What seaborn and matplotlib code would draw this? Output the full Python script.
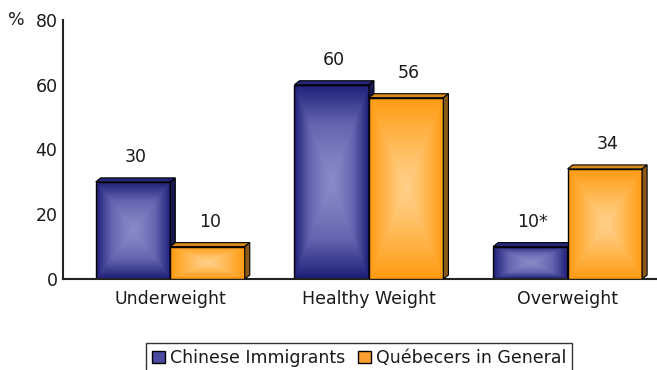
import numpy as np
import pandas as pd
import matplotlib
matplotlib.use("Agg")
import matplotlib.pyplot as plt
import seaborn as sns
from matplotlib.colors import LinearSegmentedColormap
from matplotlib.patches import Polygon, Patch, Rectangle

# ---- data ----
categories = ["Underweight", "Healthy Weight", "Overweight"]
groups = ["Chinese Immigrants", "Québecers in General"]
chinese = [30, 60, 10]
quebecers = [10, 56, 34]
labels_chinese = ["30", "60", "10*"]
labels_quebec = ["10", "56", "34"]
y_ticks = [0, 20, 40, 60, 80]

sns.set_theme(style="white")
plt.rcParams["font.family"] = ["DejaVu Sans"]
FS = 12.5

df = pd.DataFrame({
    "category": categories * 2,
    "group": [groups[0]] * len(categories) + [groups[1]] * len(categories),
    "value": chinese + quebecers,
})

fig = plt.figure(figsize=(6.57, 3.7), dpi=100)
ax = fig.add_axes([63 / 657, 1 - 279 / 370, (657 - 63) / 657, (279 - 20) / 370])

palette = {groups[0]: "#2a2a88", groups[1]: "#ff9e1a"}
sns.barplot(data=df, x="category", y="value", hue="group", order=categories,
            hue_order=groups, palette=palette, width=0.75, saturation=1,
            edgecolor="none", linewidth=0, ax=ax, legend=False)

ax.set_xlim(-0.54, 2.45)
ax.set_ylim(0, 80)
ax.set_yticks(y_ticks)
ax.set_xlabel("")
ax.set_ylabel("")
ax.tick_params(axis="both", length=0, labelsize=FS, colors="#1a1a1a")
ax.tick_params(axis="y", pad=4)
ax.tick_params(axis="x", pad=8)
for s in ["top", "right"]:
    ax.spines[s].set_visible(False)
for s in ["left", "bottom"]:
    ax.spines[s].set_color("#222222")
    ax.spines[s].set_linewidth(1.5)
ax.patch.set_alpha(0)

inv = ax.transData.inverted()
p0 = inv.transform((0, 0))
p1 = inv.transform((5, 4))
ddx, ddy = p1 - p0

cmaps = [
    LinearSegmentedColormap.from_list("b", ["#8a8ac8", "#6464b0", "#1e1e78"]),
    LinearSegmentedColormap.from_list("o", ["#ffcf88", "#ffb448", "#ff9a10"]),
]
top_colors = ["#26267a", "#d88a1a"]
side_colors = ["#18184e", "#8a5a1a"]
u = np.linspace(-1, 1, 120)
U, V = np.meshgrid(u, u)
Z = np.maximum(np.abs(U), np.abs(V)) ** 1.3

all_labels = [labels_chinese, labels_quebec]
for gi, cont in enumerate(ax.containers):
    base = 2 + gi
    for bi, bar in enumerate(cont.patches):
        x0 = bar.get_x()
        w = bar.get_width()
        h = bar.get_height()
        x1 = x0 + w
        bar.set_zorder(base)
        im = ax.imshow(Z, extent=(x0, x1, 0, h), cmap=cmaps[gi], aspect="auto",
                       origin="lower", zorder=base + 0.1, interpolation="bilinear")
        im.set_clip_path(bar)
        ax.add_patch(Rectangle((x0, 0), w, h, fill=False, edgecolor="black",
                               linewidth=1, zorder=base + 0.2))
        top = Polygon([(x0, h), (x1, h), (x1 + ddx, h + ddy), (x0 + ddx, h + ddy)],
                      closed=True, facecolor=top_colors[gi], edgecolor="black",
                      linewidth=0.8, zorder=base + 0.3)
        side = Polygon([(x1, 0), (x1, h), (x1 + ddx, h + ddy), (x1 + ddx, ddy)],
                       closed=True, facecolor=side_colors[gi], edgecolor="black",
                       linewidth=0.8, zorder=base + 0.3)
        ax.add_patch(top)
        ax.add_patch(side)
        ax.annotate(all_labels[gi][bi], (x0 + w / 2 + ddx / 2, h),
                    xytext=(0, 18), textcoords="offset points", ha="center",
                    va="center", fontsize=FS, color="#1a1a1a", zorder=10)

ax.set_xlim(-0.54, 2.45)
ax.set_ylim(0, 80)

fig.text(16 / 657, 1 - 20 / 370, "%", ha="center", va="center", fontsize=FS,
         color="#1a1a1a")

handles = [Patch(facecolor="#4a4aa0", edgecolor="black", linewidth=1),
           Patch(facecolor="#ffa030", edgecolor="black", linewidth=1)]
leg = fig.legend(handles, groups, loc="upper center",
                 bbox_to_anchor=(359 / 657, 1 - 343 / 370), ncol=2, frameon=True,
                 fancybox=False, edgecolor="black", handlelength=0.75,
                 handleheight=0.75, handletextpad=0.3, columnspacing=0.7,
                 borderpad=0.35, fontsize=FS, borderaxespad=0)
leg.get_frame().set_linewidth(1)
for t in leg.get_texts():
    t.set_color("#1a1a1a")

fig.savefig("out.png", dpi=100)
